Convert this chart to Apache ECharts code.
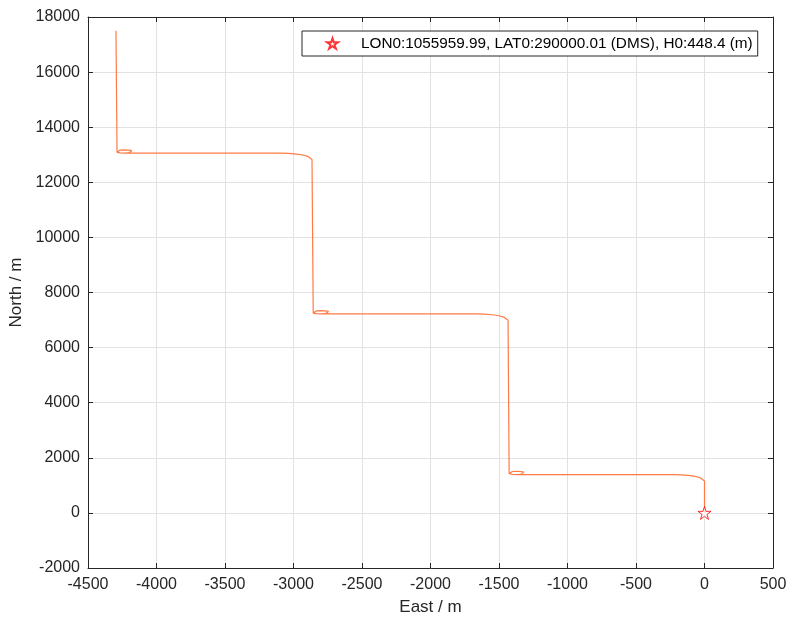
<!DOCTYPE html>
<html>
<head>
<meta charset="utf-8">
<script src="https://cdn.jsdelivr.net/npm/echarts@6/dist/echarts.min.js"></script>
<style>
html,body{margin:0;padding:0;background:#fff;}
#chart{width:797px;height:630px;}
</style>
</head>
<body>
<div id="chart"></div>
<script>
// ---- data (East / North in metres) ----
const leg1 = [ // start, north, turn west
  [0, 0], [0, 1160], [-8, 1220], [-31, 1275], [-67, 1323], [-115, 1359], [-171, 1382], [-230, 1390]
];
const loop1 = [
  [-1372, 1390], [-1403, 1398], [-1426, 1420], [-1434, 1450], [-1426, 1480], [-1403, 1502],
  [-1372, 1510], [-1341, 1502], [-1318, 1480], [-1310, 1450], [-1318, 1420], [-1341, 1398],
  [-1372, 1390], [-1403, 1398], [-1426, 1420], [-1434, 1450]
];
const leg2 = [
  [-1434, 6994], [-1442, 7054], [-1465, 7109], [-1501, 7157], [-1549, 7193], [-1605, 7216], [-1664, 7224]
];
const loop2 = [
  [-2800, 7224], [-2832, 7232], [-2856, 7254], [-2865, 7284], [-2856, 7314], [-2832, 7336],
  [-2800, 7344], [-2768, 7336], [-2744, 7314], [-2735, 7284], [-2744, 7254], [-2768, 7232],
  [-2800, 7224], [-2832, 7232], [-2856, 7254], [-2865, 7284]
];
const leg3 = [
  [-2865, 12827], [-2873, 12887], [-2896, 12942], [-2932, 12990], [-2980, 13026], [-3036, 13049], [-3095, 13057]
];
const loop3 = [
  [-4234, 13057], [-4265, 13065], [-4288, 13087], [-4296, 13117], [-4288, 13147], [-4265, 13169],
  [-4234, 13177], [-4203, 13169], [-4180, 13147], [-4172, 13117], [-4180, 13087], [-4203, 13065],
  [-4234, 13057], [-4265, 13065], [-4288, 13087], [-4296, 13117]
];
const leg4 = [[-4296, 17500]];
const startPoint = [[0, 0]];
const legendLabel = 'LON0:1055959.99, LAT0:290000.01 (DMS), H0:448.4 (m)';
const xTicks = {min: -4500, max: 500, interval: 500};
const yTicks = {min: -2000, max: 18000, interval: 2000};

const track = [].concat(leg1, loop1, leg2, loop2, leg3, loop3, leg4);

const starPath = 'path://M50,2 L61.2,36.5 L97.6,36.5 L68.2,57.8 L79.4,92.4 L50,71 L20.6,92.4 L31.8,57.8 L2.4,36.5 L38.8,36.5 Z';
const FONT = 'Liberation Sans';
const dark = '#262626';
const plain = v => String(v);

const chart = echarts.init(document.getElementById('chart'), null, {renderer: 'canvas'});
const axisCommon = {
  type: 'value',
  axisLine: {show: true, onZero: false, lineStyle: {color: dark, width: 1}},
  axisTick: {show: true, inside: true, length: 5, lineStyle: {color: dark}},
};
chart.setOption({
  animation: false,
  backgroundColor: '#fff',
  grid: {left: 88, right: 24, top: 17, bottom: 62, show: false, containLabel: false, outerBoundsMode: 'none'},
  legend: {
    show: true,
    left: 302, top: 31,
    padding: [5, 5, 5, 24],
    backgroundColor: '#fff',
    borderColor: dark, borderWidth: 1,
    itemWidth: 11, itemHeight: 11,
    data: [{name: legendLabel, icon: starPath}],
    textStyle: {fontFamily: FONT, fontSize: 15.3, color: '#000', padding: [0, 0, 0, 18]}
  },
  xAxis: [
    Object.assign({}, axisCommon, {
      position: 'bottom', min: xTicks.min, max: xTicks.max, interval: xTicks.interval,
      name: 'East / m', nameLocation: 'middle', nameGap: 31,
      nameTextStyle: {fontFamily: FONT, fontSize: 17, color: dark},
      axisLabel: {fontFamily: FONT, fontSize: 16, color: dark, margin: 9, formatter: plain},
      splitLine: {show: true, lineStyle: {color: '#e2e2e2', width: 1}}
    }),
    Object.assign({}, axisCommon, {
      position: 'top', min: xTicks.min, max: xTicks.max, interval: xTicks.interval,
      axisLabel: {show: false}, splitLine: {show: false}
    })
  ],
  yAxis: [
    Object.assign({}, axisCommon, {
      position: 'left', min: yTicks.min, max: yTicks.max, interval: yTicks.interval,
      name: 'North / m', nameLocation: 'middle', nameGap: 61, nameRotate: 90,
      nameTextStyle: {fontFamily: FONT, fontSize: 17, color: dark},
      axisLabel: {fontFamily: FONT, fontSize: 16, color: dark, margin: 8, formatter: plain},
      splitLine: {show: true, lineStyle: {color: '#e2e2e2', width: 1}}
    }),
    Object.assign({}, axisCommon, {
      position: 'right', min: yTicks.min, max: yTicks.max, interval: yTicks.interval,
      axisLabel: {show: false}, splitLine: {show: false}
    })
  ],
  series: [
    {
      name: 'track', type: 'line', data: track, showSymbol: false, symbol: 'none',
      lineStyle: {color: '#ff7a45', width: 1.2}, z: 2, silent: true
    },
    {
      name: legendLabel, type: 'scatter', data: startPoint, symbol: starPath, symbolSize: 13,
      itemStyle: {color: '#fff', borderColor: '#ff0000', borderWidth: 1}, z: 5
    }
  ]
});
</script>
</body>
</html>
